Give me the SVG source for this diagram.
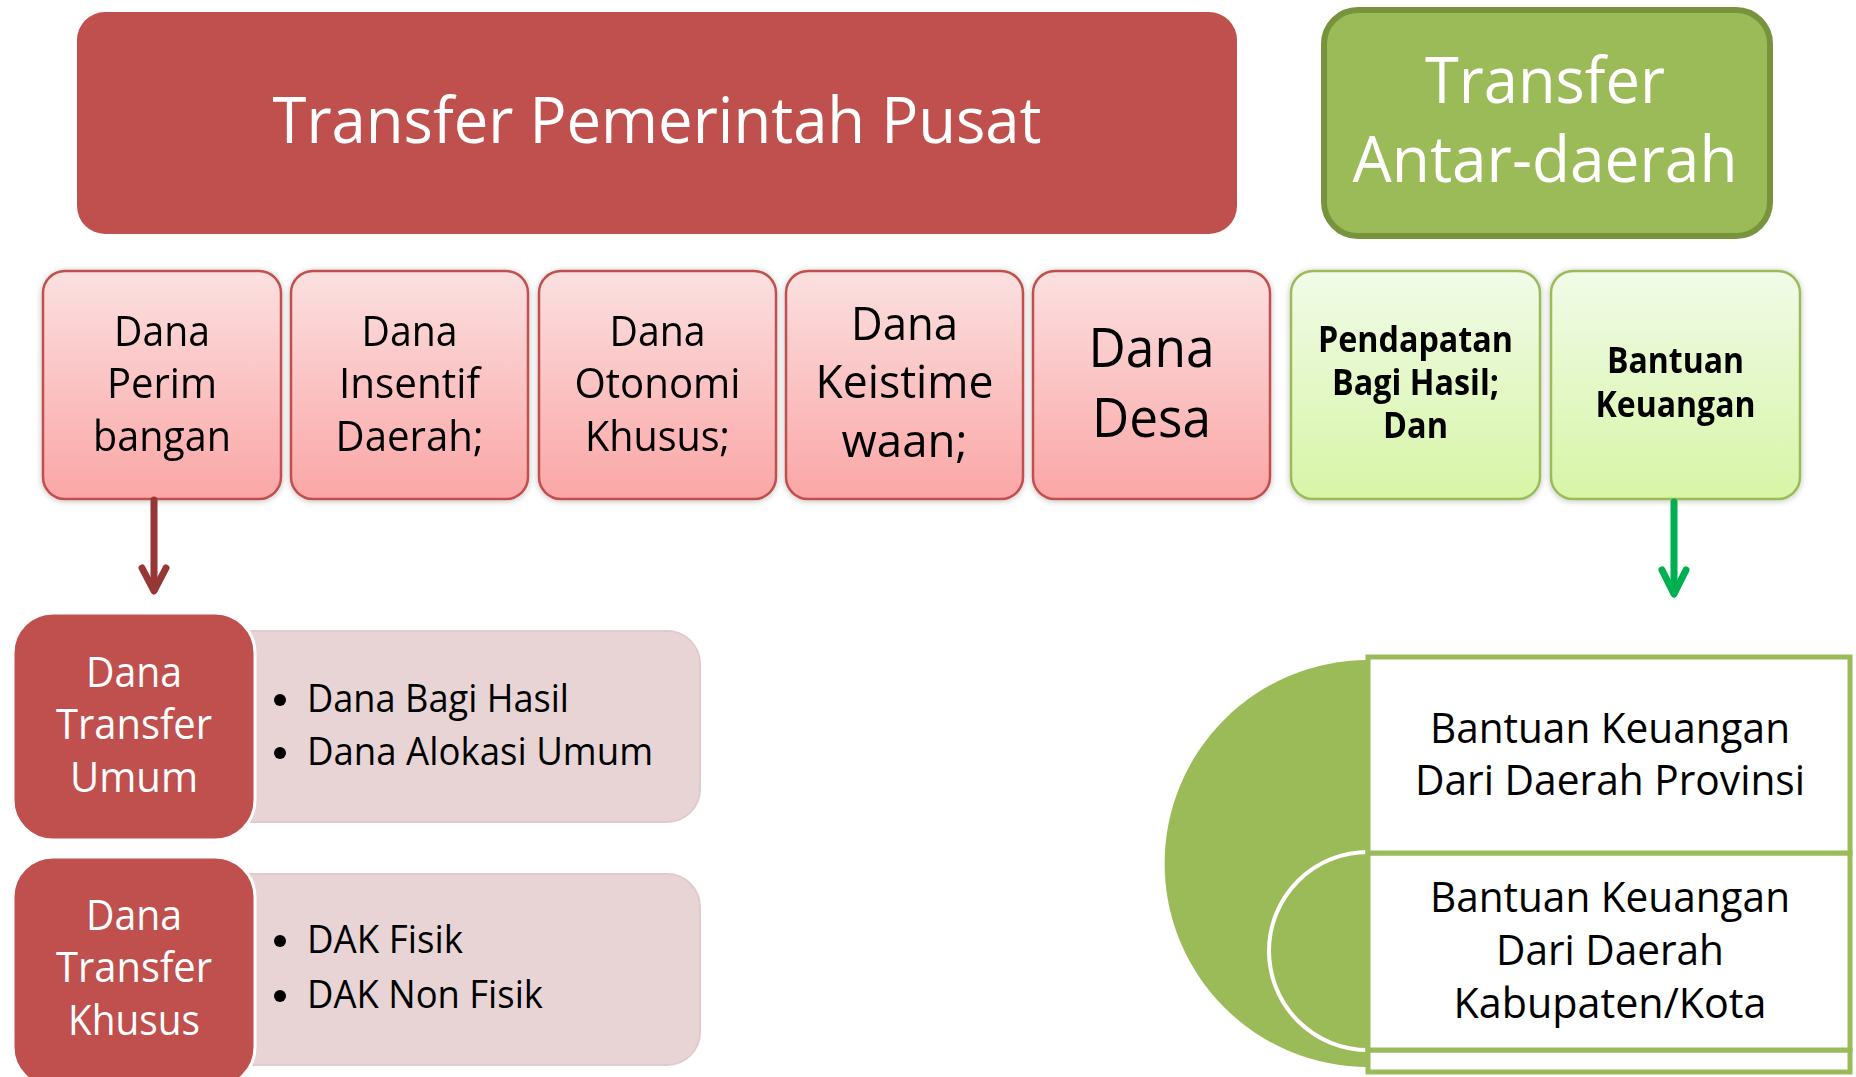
<svg xmlns="http://www.w3.org/2000/svg" width="1856" height="1077" viewBox="0 0 1856 1077">
  <defs>
    <linearGradient id="gradPink" x1="0" y1="0" x2="0" y2="1">
      <stop offset="0" stop-color="#fbe0e0"/>
      <stop offset="1" stop-color="#fba6a6"/>
    </linearGradient>
    <linearGradient id="gradLime" x1="0" y1="0" x2="0" y2="1">
      <stop offset="0" stop-color="#f1fbe8"/>
      <stop offset="1" stop-color="#d7f5a6"/>
    </linearGradient>
    <filter id="soft" x="-10%" y="-10%" width="120%" height="120%">
      <feGaussianBlur in="SourceAlpha" stdDeviation="3"/>
      <feOffset dx="0" dy="1" result="b"/>
      <feComponentTransfer><feFuncA type="linear" slope="0.25"/></feComponentTransfer>
      <feMerge><feMergeNode/><feMergeNode in="SourceGraphic"/></feMerge>
    </filter>
  </defs>
  <style>
    text { font-family: "Open Sans", "Noto Sans", "Liberation Sans", sans-serif; text-anchor: middle; }
    .hdr { fill: #ffffff; font-size: 64px; }
    .sub { fill: #000000; font-size: 41.5px; }
    .sub4 { fill: #000000; font-size: 46px; }
    .sub5 { fill: #000000; font-size: 54px; }
    .bold { fill: #000000; font-size: 35px; font-weight: 700; }
    .wt { fill: #ffffff; font-size: 41.5px; }
    .bul { fill: #000000; font-size: 38px; text-anchor: start; }
    .rt { fill: #000000; font-size: 42.5px; }
    .pinkBox { fill: url(#gradPink); stroke: #c0504d; stroke-width: 2.5; }
    .limeBox { fill: url(#gradLime); stroke: #9bbb59; stroke-width: 2.5; }
    .redTile { fill: #c0504d; stroke: #ffffff; stroke-width: 3; }
    .panel { fill: #e8d4d4; stroke: #e2caca; stroke-width: 2; }
    .dot { fill: #000000; }
    .slot { fill: #ffffff; stroke: #9bbb59; stroke-width: 5; }
  </style>

  <!-- header: central government transfer -->
  <g id="transfer-pusat">
    <rect x="77" y="12" width="1160" height="222" rx="28" fill="#c0504d"/>
    <text class="hdr" x="657" y="143" textLength="769" lengthAdjust="spacingAndGlyphs">Transfer Pemerintah Pusat</text>
  </g>

  <!-- header: inter-regional transfer -->
  <g id="transfer-antar-daerah">
    <rect x="1324" y="10" width="446" height="226" rx="34" fill="#9bbb59" stroke="#77933c" stroke-width="6"/>
    <text class="hdr" x="1545" y="103" textLength="240" lengthAdjust="spacingAndGlyphs">Transfer</text>
    <text class="hdr" x="1545" y="182" textLength="385" lengthAdjust="spacingAndGlyphs">Antar-daerah</text>
  </g>

  <!-- second row: fund types -->
  <g id="dana-perimbangan" filter="url(#soft)">
    <rect class="pinkBox" x="43" y="271" width="238" height="228" rx="22"/>
    <text class="sub" x="162" y="346" textLength="96" lengthAdjust="spacingAndGlyphs">Dana</text>
    <text class="sub" x="162" y="398" textLength="110" lengthAdjust="spacingAndGlyphs">Perim</text>
    <text class="sub" x="162" y="451" textLength="138" lengthAdjust="spacingAndGlyphs">bangan</text>
  </g>
  <g id="dana-insentif-daerah" filter="url(#soft)">
    <rect class="pinkBox" x="291" y="271" width="237" height="228" rx="22"/>
    <text class="sub" x="409.5" y="346" textLength="96" lengthAdjust="spacingAndGlyphs">Dana</text>
    <text class="sub" x="409.5" y="398" textLength="141" lengthAdjust="spacingAndGlyphs">Insentif</text>
    <text class="sub" x="409.5" y="451" textLength="148" lengthAdjust="spacingAndGlyphs">Daerah;</text>
  </g>
  <g id="dana-otonomi-khusus" filter="url(#soft)">
    <rect class="pinkBox" x="539" y="271" width="237" height="228" rx="22"/>
    <text class="sub" x="657.5" y="346" textLength="96" lengthAdjust="spacingAndGlyphs">Dana</text>
    <text class="sub" x="657.5" y="398" textLength="166" lengthAdjust="spacingAndGlyphs">Otonomi</text>
    <text class="sub" x="657.5" y="451" textLength="145" lengthAdjust="spacingAndGlyphs">Khusus;</text>
  </g>
  <g id="dana-keistimewaan" filter="url(#soft)">
    <rect class="pinkBox" x="786" y="271" width="237" height="228" rx="22"/>
    <text class="sub4" x="904.5" y="340" textLength="107" lengthAdjust="spacingAndGlyphs">Dana</text>
    <text class="sub4" x="904.5" y="398" textLength="178" lengthAdjust="spacingAndGlyphs">Keistime</text>
    <text class="sub4" x="904.5" y="457" textLength="126" lengthAdjust="spacingAndGlyphs">waan;</text>
  </g>
  <g id="dana-desa" filter="url(#soft)">
    <rect class="pinkBox" x="1033" y="271" width="237" height="228" rx="22"/>
    <text class="sub5" x="1151.5" y="367" textLength="126" lengthAdjust="spacingAndGlyphs">Dana</text>
    <text class="sub5" x="1151.5" y="437" textLength="119" lengthAdjust="spacingAndGlyphs">Desa</text>
  </g>
  <g id="pendapatan-bagi-hasil" filter="url(#soft)">
    <rect class="limeBox" x="1291" y="271" width="249" height="228" rx="22"/>
    <text class="bold" x="1415.5" y="352" textLength="195" lengthAdjust="spacingAndGlyphs">Pendapatan</text>
    <text class="bold" x="1415.5" y="395" textLength="167" lengthAdjust="spacingAndGlyphs">Bagi Hasil;</text>
    <text class="bold" x="1415.5" y="438" textLength="65" lengthAdjust="spacingAndGlyphs">Dan</text>
  </g>
  <g id="bantuan-keuangan" filter="url(#soft)">
    <rect class="limeBox" x="1551" y="271" width="249" height="228" rx="22"/>
    <text class="bold" x="1675.5" y="373" textLength="137" lengthAdjust="spacingAndGlyphs">Bantuan</text>
    <text class="bold" x="1675.5" y="417" textLength="160" lengthAdjust="spacingAndGlyphs">Keuangan</text>
  </g>

  <!-- connectors -->
  <g id="connectors" fill="none" stroke-linecap="round" stroke-linejoin="round" stroke-width="7">
    <g stroke="#953735">
      <line x1="154" y1="500" x2="154" y2="589"/>
      <polyline points="142,568 154,591 166,568"/>
    </g>
    <g stroke="#00b050">
      <line x1="1674" y1="502" x2="1674" y2="592"/>
      <polyline points="1662,570 1674,594 1686,570"/>
    </g>
  </g>

  <!-- general transfer funds -->
  <g id="dana-transfer-umum">
    <path class="panel" d="M240,631 H667 A33,33 0 0 1 700,664 V789 A33,33 0 0 1 667,822 H240 Z"/>
    <rect class="redTile" x="13" y="613" width="242" height="227" rx="40"/>
    <text class="wt" x="134" y="687" textLength="96" lengthAdjust="spacingAndGlyphs">Dana</text>
    <text class="wt" x="134" y="739" textLength="156" lengthAdjust="spacingAndGlyphs">Transfer</text>
    <text class="wt" x="134" y="792" textLength="128" lengthAdjust="spacingAndGlyphs">Umum</text>
    <circle class="dot" cx="280" cy="700" r="6"/>
    <text class="bul" x="307" y="712" textLength="262" lengthAdjust="spacingAndGlyphs">Dana Bagi Hasil</text>
    <circle class="dot" cx="280" cy="753" r="6"/>
    <text class="bul" x="307" y="765" textLength="346" lengthAdjust="spacingAndGlyphs">Dana Alokasi Umum</text>
  </g>

  <!-- special transfer funds -->
  <g id="dana-transfer-khusus">
    <path class="panel" d="M240,874 H667 A33,33 0 0 1 700,907 V1032 A33,33 0 0 1 667,1065 H240 Z"/>
    <rect class="redTile" x="13" y="857" width="242" height="230" rx="40"/>
    <text class="wt" x="134" y="930" textLength="96" lengthAdjust="spacingAndGlyphs">Dana</text>
    <text class="wt" x="134" y="982" textLength="156" lengthAdjust="spacingAndGlyphs">Transfer</text>
    <text class="wt" x="134" y="1035" textLength="132" lengthAdjust="spacingAndGlyphs">Khusus</text>
    <circle class="dot" cx="280" cy="941" r="6"/>
    <text class="bul" x="307" y="953" textLength="156" lengthAdjust="spacingAndGlyphs">DAK Fisik</text>
    <circle class="dot" cx="280" cy="996" r="6"/>
    <text class="bul" x="307" y="1008" textLength="236" lengthAdjust="spacingAndGlyphs">DAK Non Fisik</text>
  </g>

  <!-- financial assistance breakdown -->
  <g id="bantuan-keuangan-rincian">
    <path d="M1368,660 A203,203 0 0 0 1368,1067 Z" fill="#9bbb59"/>
    <path d="M1368,852 A99,99 0 0 0 1368,1050" fill="#9bbb59" stroke="#ffffff" stroke-width="4"/>
    <rect class="slot" x="1368" y="1050" width="482" height="22"/>
    <rect class="slot" x="1368" y="853" width="482" height="197"/>
    <rect class="slot" x="1368" y="657" width="482" height="196"/>
  </g>
  <g id="bantuan-provinsi">
    <text class="rt" x="1610" y="743" textLength="360" lengthAdjust="spacingAndGlyphs">Bantuan Keuangan</text>
    <text class="rt" x="1610" y="795" textLength="390" lengthAdjust="spacingAndGlyphs">Dari Daerah Provinsi</text>
  </g>
  <g id="bantuan-kabupaten-kota">
    <text class="rt" x="1610" y="912" textLength="360" lengthAdjust="spacingAndGlyphs">Bantuan Keuangan</text>
    <text class="rt" x="1610" y="965" textLength="228" lengthAdjust="spacingAndGlyphs">Dari Daerah</text>
    <text class="rt" x="1610" y="1018" textLength="313" lengthAdjust="spacingAndGlyphs">Kabupaten/Kota</text>
  </g>
</svg>
